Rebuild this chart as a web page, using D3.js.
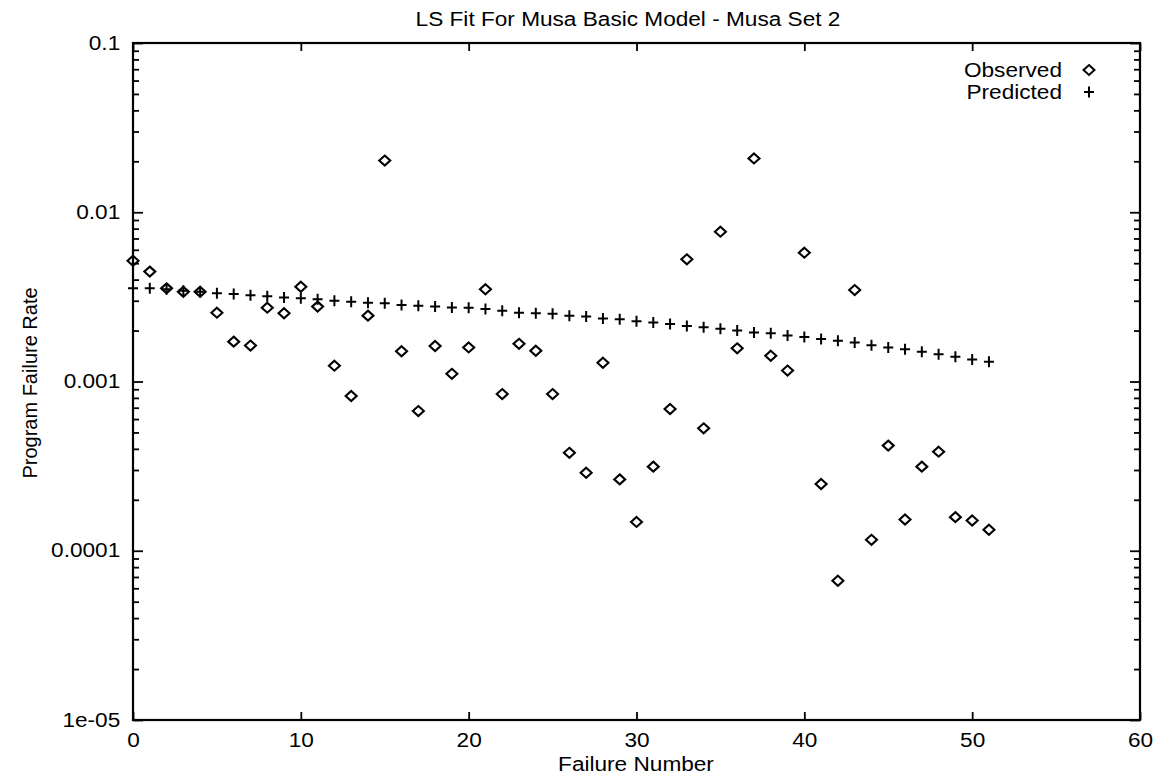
<!DOCTYPE html>
<html>
<head>
<meta charset="utf-8">
<script src="https://cdn.jsdelivr.net/npm/d3@7/dist/d3.min.js"></script>
<style>
  body { margin: 0; background: #fff; }
  svg text { font-family: "Liberation Sans", Arial, sans-serif; fill: #000; }
</style>
</head>
<body>
<div id="chart"></div>
<script>
// failure numbers (x)
const failureNumber = [0, 1, 2, 3, 4, 5, 6, 7, 8, 9, 10, 11, 12, 13, 14, 15, 16, 17, 18, 19,
    20, 21, 22, 23, 24, 25, 26, 27, 28, 29, 30, 31, 32, 33, 34, 35, 36, 37, 38, 39,
    40, 41, 42, 43, 44, 45, 46, 47, 48, 49, 50, 51];

// observed failure rate
const observed = [0.00517, 0.00446, 0.00355, 0.00339, 0.00339, 0.00255, 0.00172, 0.00163, 0.00273, 0.00253,
    0.00363, 0.00277, 0.00124, 0.000821, 0.00245, 0.0202, 0.00151, 0.000669, 0.00162, 0.00111,
    0.00159, 0.00351, 0.000843, 0.00167, 0.00152, 0.000843, 0.000379, 0.000289, 0.00129, 0.000264,
    0.000148, 0.000314, 0.000688, 0.00527, 0.000529, 0.00768, 0.00157, 0.0208, 0.00142, 0.00116,
    0.00577, 0.000248, 0.0000665, 0.00347, 0.000116, 0.000418, 0.000153, 0.000314, 0.000385, 0.000158,
    0.000151, 0.000133];

// predicted failure rate (LS fit)
const predicted = [0.00355, 0.00355, 0.00351, 0.00344, 0.00339, 0.00332, 0.00329, 0.00323, 0.00319, 0.00314,
    0.00310, 0.00306, 0.00300, 0.00296, 0.00292, 0.00290, 0.00283, 0.00280, 0.00277, 0.00274,
    0.00273, 0.00268, 0.00262, 0.00255, 0.00253, 0.00251, 0.00245, 0.00242, 0.00236, 0.00233,
    0.00227, 0.00223, 0.00219, 0.00213, 0.00209, 0.00205, 0.00200, 0.00195, 0.00193, 0.00187,
    0.00183, 0.00178, 0.00174, 0.00170, 0.00164, 0.00159, 0.00155, 0.00150, 0.00145, 0.00140,
    0.00135, 0.00131];

const xTicks = [0, 10, 20, 30, 40, 50, 60];
const yTicks = [1e-5, 1e-4, 1e-3, 1e-2, 1e-1];
const yTickLabels = ["1e-05", "0.0001", "0.001", "0.01", "0.1"];
const seriesNames = ["Observed", "Predicted"];

function init() {
    const W = 1161, H = 775;
    const left = 133, right = 1140, top = 43, bottom = 720;
    const SX = 1.16; // the scan's text is a bit wide
    const fs = "19.5px";

    const svg = d3.select("#chart").append("svg")
        .attr("width", W).attr("height", H);

    const x = d3.scaleLinear().domain([0, 60]).range([left, right]);
    const y = d3.scaleLog().domain([1e-5, 0.1]).range([bottom, top]);

    // minor log ticks 2..9 per decade
    const minor = [];
    yTicks.slice(0, -1).forEach(t => {
        for (let k = 2; k <= 9; k++) minor.push(t * k);
    });

    const fmt = d => yTickLabels[yTicks.indexOf(d)];

    // left axis
    svg.append("g").attr("transform", `translate(${left},0)`)
        .call(d3.axisLeft(y).tickValues(yTicks).tickFormat(fmt).tickSize(-10).tickPadding(11))
        .call(g => g.select(".domain").remove())
        .call(g => g.selectAll("line").attr("stroke", "#000").attr("stroke-width", 1.8))
        .call(g => g.selectAll("text").attr("transform", `scale(${SX},1)`).style("font-size", fs));
    svg.append("g").attr("transform", `translate(${left},0)`)
        .call(d3.axisLeft(y).tickValues(minor).tickFormat("").tickSize(-6))
        .call(g => g.select(".domain").remove())
        .call(g => g.selectAll("line").attr("stroke", "#000").attr("stroke-width", 1.8));

    // right axis
    svg.append("g").attr("transform", `translate(${right},0)`)
        .call(d3.axisRight(y).tickValues(yTicks).tickFormat("").tickSize(-10))
        .call(g => g.select(".domain").remove())
        .call(g => g.selectAll("line").attr("stroke", "#000").attr("stroke-width", 1.8));
    svg.append("g").attr("transform", `translate(${right},0)`)
        .call(d3.axisRight(y).tickValues(minor).tickFormat("").tickSize(-6))
        .call(g => g.select(".domain").remove())
        .call(g => g.selectAll("line").attr("stroke", "#000").attr("stroke-width", 1.8));

    // bottom axis
    svg.append("g").attr("transform", `translate(0,${bottom})`)
        .call(d3.axisBottom(x).tickValues(xTicks).tickFormat(d3.format("d")).tickSize(-8).tickPadding(13))
        .call(g => g.select(".domain").remove())
        .call(g => g.selectAll("line").attr("stroke", "#000").attr("stroke-width", 1.8))
        .call(g => g.selectAll("text").attr("transform", `scale(${SX},1)`).style("font-size", fs));

    // top axis
    svg.append("g").attr("transform", `translate(0,${top})`)
        .call(d3.axisTop(x).tickValues(xTicks).tickFormat("").tickSize(-8))
        .call(g => g.select(".domain").remove())
        .call(g => g.selectAll("line").attr("stroke", "#000").attr("stroke-width", 1.8));

    // frame
    svg.append("rect")
        .attr("x", left).attr("y", top)
        .attr("width", right - left).attr("height", bottom - top)
        .attr("fill", "none").attr("stroke", "#000").attr("stroke-width", 2.2);

    const diamond = "M0,-5L5.5,0L0,5L-5.5,0Z";
    const plus = "M-5,0H5M0,-5.5V5.5";

    // predicted
    svg.append("g").selectAll("path")
        .data(predicted)
        .join("path")
        .attr("transform", (d, i) => `translate(${x(failureNumber[i])},${y(d)})`)
        .attr("d", plus)
        .attr("fill", "none").attr("stroke", "#000").attr("stroke-width", 2);

    // observed
    svg.append("g").selectAll("path")
        .data(observed)
        .join("path")
        .attr("transform", (d, i) => `translate(${x(failureNumber[i])},${y(d)})`)
        .attr("d", diamond)
        .attr("fill", "none").attr("stroke", "#000").attr("stroke-width", 2.1);

    // title
    svg.append("text")
        .attr("x", 628 / SX).attr("y", 26)
        .attr("transform", `scale(${SX},1)`)
        .attr("text-anchor", "middle")
        .style("font-size", fs)
        .text("LS Fit For Musa Basic Model - Musa Set 2");

    // axis titles
    svg.append("text")
        .attr("x", 636 / SX).attr("y", 771)
        .attr("transform", `scale(${SX},1)`)
        .attr("text-anchor", "middle")
        .style("font-size", fs)
        .text("Failure Number");

    svg.append("text")
        .attr("transform", `translate(37,383) rotate(-90)`)
        .attr("text-anchor", "middle")
        .style("font-size", "20px")
        .text("Program Failure Rate");

    // legend
    const legend = svg.append("g");
    seriesNames.forEach((name, i) => {
        const ly = 70 + i * 22;
        legend.append("text")
            .attr("x", 1062 / SX).attr("y", ly + 7)
            .attr("transform", `scale(${SX},1)`)
            .attr("text-anchor", "end")
            .style("font-size", fs)
            .text(name);
        legend.append("path")
            .attr("transform", `translate(1089,${ly})`)
            .attr("d", i === 0 ? diamond : plus)
            .attr("fill", "none").attr("stroke", "#000").attr("stroke-width", 2);
    });
}

window.onload = init;
</script>
</body>
</html>
